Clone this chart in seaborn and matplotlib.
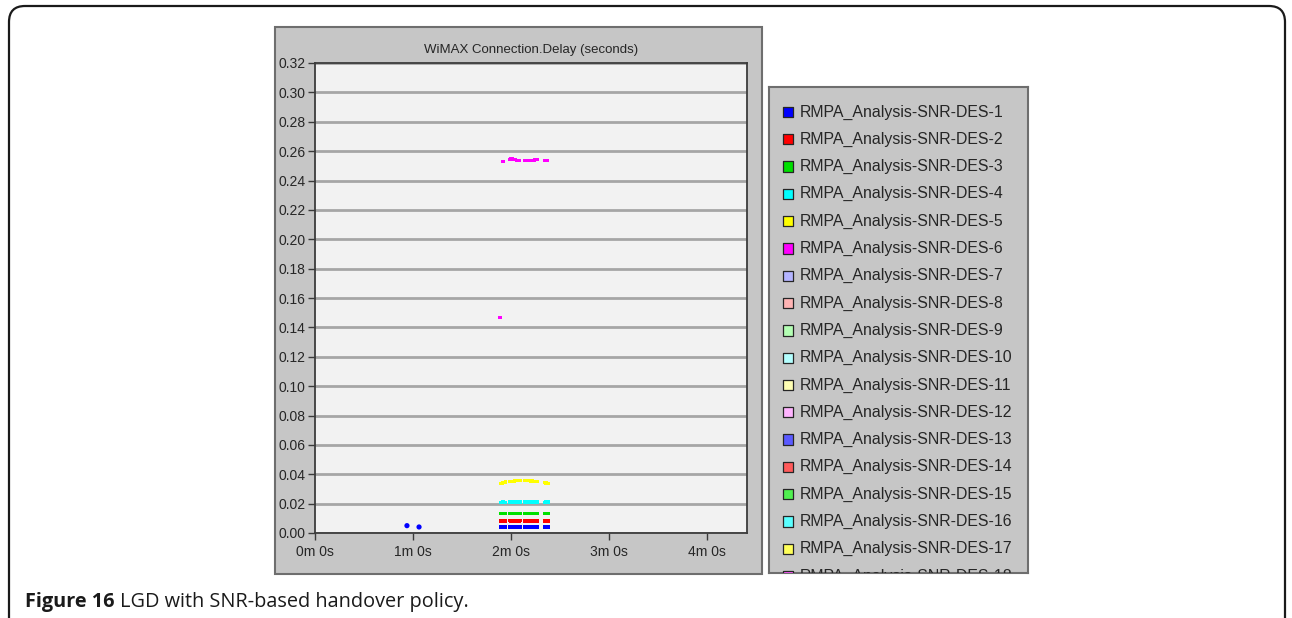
import numpy as np
import pandas as pd
import seaborn as sns
import matplotlib.pyplot as plt
from matplotlib import font_manager
from matplotlib.patches import Rectangle, FancyBboxPatch
from matplotlib.transforms import IdentityTransform

# ---- data (time in seconds, delay in seconds) ----
series_names = [f"RMPA_Analysis-SNR-DES-{i}" for i in range(1, 19)]
series_colors = [
    "#0000ff", "#ff0000", "#00e000", "#00ffff", "#ffff00", "#ff00ff",
    "#b4b4ff", "#ffb4b4", "#b4ffb4", "#b4ffff", "#ffffb4", "#ffb4ff",
    "#5a5aff", "#ff5a5a", "#50f050", "#5affff", "#ffff5a", "#ff5aff",
]

t_des1_early = [56.3, 63.7]
delay_des1_early = [0.0050, 0.0041]

t_burst = [113.6, 114.6, 115.6, 116.5,
           119.1, 120.0, 121.0, 122.0, 123.0, 124.0, 124.9, 125.7,
           128.3, 129.2, 130.1, 131.0, 132.0, 133.0, 134.0, 135.0, 135.7, 136.3,
           140.5, 141.5, 142.6]
delay_des1 = [0.0041, 0.0040, 0.0040, 0.0041, 0.0040, 0.0040, 0.0041, 0.0040,
              0.0040, 0.0041, 0.0040, 0.0040, 0.0040, 0.0040, 0.0041, 0.0040,
              0.0040, 0.0040, 0.0041, 0.0040, 0.0040, 0.0040, 0.0040, 0.0041, 0.0040]
delay_des2 = [0.0082, 0.0083, 0.0082, 0.0082, 0.0083, 0.0082, 0.0082, 0.0083,
              0.0082, 0.0082, 0.0082, 0.0083, 0.0082, 0.0082, 0.0083, 0.0082,
              0.0082, 0.0082, 0.0083, 0.0082, 0.0082, 0.0082, 0.0082, 0.0083, 0.0082]
delay_des3 = [0.0134, 0.0135, 0.0134, 0.0134, 0.0135, 0.0134, 0.0134, 0.0135,
              0.0134, 0.0134, 0.0134, 0.0135, 0.0134, 0.0134, 0.0135, 0.0134,
              0.0134, 0.0134, 0.0135, 0.0134, 0.0134, 0.0134, 0.0134, 0.0135, 0.0134]
delay_des4 = [0.0210, 0.0211, 0.0211, 0.0210, 0.0211, 0.0211, 0.0210, 0.0211,
              0.0211, 0.0211, 0.0210, 0.0211, 0.0211, 0.0210, 0.0211, 0.0211,
              0.0210, 0.0211, 0.0211, 0.0210, 0.0211, 0.0211, 0.0210, 0.0211, 0.0211]
delay_des5 = [0.0336, 0.0341, 0.0345, 0.0348, 0.0351, 0.0352, 0.0353, 0.0354,
              0.0355, 0.0355, 0.0356, 0.0356, 0.0356, 0.0356, 0.0355, 0.0355,
              0.0354, 0.0354, 0.0353, 0.0352, 0.0351, 0.0350, 0.0345, 0.0341, 0.0335]

t_des6 = [113.3, 115.1,
          119.0, 119.9, 120.8, 121.7, 122.6, 123.5, 124.4, 125.3,
          128.3, 129.2, 130.1, 131.0, 131.9, 132.8, 133.7, 134.6, 135.5, 136.3,
          140.3, 141.2, 142.1]
delay_des6 = [0.1465, 0.2528,
              0.2543, 0.2546, 0.2547, 0.2545, 0.2541, 0.2538, 0.2537, 0.2536,
              0.2535, 0.2535, 0.2535, 0.2536, 0.2537, 0.2537, 0.2538, 0.2540, 0.2543, 0.2545,
              0.2537, 0.2536, 0.2536]

y_ticks = [0.00, 0.02, 0.04, 0.06, 0.08, 0.10, 0.12, 0.14, 0.16,
           0.18, 0.20, 0.22, 0.24, 0.26, 0.28, 0.30, 0.32]
x_ticks = [0, 60, 120, 180, 240]
x_tick_labels = ["0m 0s", "1m 0s", "2m 0s", "3m 0s", "4m 0s"]
x_max = 264.5

# ---- long-form table ----
frames = []
for name, vals in zip(series_names[:5], [delay_des1, delay_des2, delay_des3, delay_des4, delay_des5]):
    frames.append(pd.DataFrame({"time": t_burst, "delay": vals, "series": name}))
frames.append(pd.DataFrame({"time": t_des6, "delay": delay_des6, "series": series_names[5]}))
df = pd.concat(frames, ignore_index=True)
df_early = pd.DataFrame({"time": t_des1_early, "delay": delay_des1_early, "series": series_names[0]})
palette = dict(zip(series_names, series_colors))

# ---- style / fonts ----
sns.set_style("white")
available = {f.name for f in font_manager.fontManager.ttflist}
narrow = "Liberation Sans Narrow" if "Liberation Sans Narrow" in available else "Liberation Sans"
plt.rcParams["font.family"] = [narrow, "DejaVu Sans"]
text_color = "#262626"

W, H = 1292, 618
fig = plt.figure(figsize=(W / 100, H / 100), dpi=100)
fig.patch.set_facecolor("white")


def fig_rect(x0, y0, x1, y1):
    # pixel box (top-left origin) -> figure fraction [left, bottom, width, height]
    return [x0 / W, (H - y1) / H, (x1 - x0) / W, (y1 - y0) / H]


# outer rounded frame of the figure
frame = FancyBboxPatch((9, -40), 1276, 612 + 40, boxstyle="round,pad=0,rounding_size=16",
                       transform=IdentityTransform(), facecolor="none",
                       edgecolor="#1a1a1a", linewidth=1.6, zorder=-2)
fig.patches.append(frame)

# grey chart panel (behind the axes)
panel = Rectangle((275 / W, (H - 574) / H), (762 - 275) / W, (574 - 27) / H,
                  transform=fig.transFigure, facecolor="#c6c6c6",
                  edgecolor="#6e6e6e", linewidth=1.5, zorder=-1)
fig.patches.append(panel)

# ---- main plot ----
ax = fig.add_axes(fig_rect(315, 63, 747, 533))
ax.set_facecolor("#f2f2f2")
sns.scatterplot(data=df, x="time", y="delay", hue="series", palette=palette,
                marker="s", s=5.5, linewidth=0, legend=False, ax=ax, zorder=3)
sns.scatterplot(data=df_early, x="time", y="delay", hue="series", palette=palette,
                marker="o", s=14, linewidth=0, legend=False, ax=ax, zorder=3)

ax.set_xlim(0, x_max)
ax.set_ylim(0, 0.32)
ax.set_yticks(y_ticks)
ax.set_yticklabels([f"{v:.2f}" for v in y_ticks])
ax.set_xticks(x_ticks)
ax.set_xticklabels(x_tick_labels)
ax.set_xlabel("")
ax.set_ylabel("")
ax.yaxis.grid(True, color="#a6a6a6", linewidth=2)
ax.xaxis.grid(False)
ax.set_axisbelow(True)
ax.tick_params(axis="both", direction="out", length=5, width=1, color="#3a3a3a",
               labelsize=10, labelcolor=text_color, pad=2, left=True, bottom=True)
ax.tick_params(axis="x", pad=4)
for side in ["top", "right", "bottom", "left"]:
    ax.spines[side].set_visible(True)
    ax.spines[side].set_color("#3c3c3c")
    ax.spines[side].set_linewidth(1.3)

fig.text(531 / W, 1 - 50 / H, "WiMAX Connection.Delay (seconds)", ha="center", va="center",
         fontsize=9.5, color=text_color)

# ---- legend panel ----
lax = fig.add_axes(fig_rect(769, 87, 1028, 573))
lax.set_facecolor("#c6c6c6")
lax.set_xlim(0, 259)
lax.set_ylim(573 - 87, 0)
lax.set_xticks([])
lax.set_yticks([])
for side in lax.spines.values():
    side.set_color("#6e6e6e")
    side.set_linewidth(1.5)
entry_y = [25 + 27.3 * i for i in range(len(series_names))]
lax.scatter([19] * len(series_names), entry_y, marker="s", s=55, c=series_colors,
            edgecolors="#262626", linewidths=0.9, clip_on=True, zorder=3)
for yy, name in zip(entry_y, series_names):
    lax.text(31, yy, name, va="center", ha="left", fontsize=11.4, color=text_color,
             clip_on=True)

# ---- caption ----
cap_font = "Open Sans" if "Open Sans" in available else "DejaVu Sans"
t1 = fig.text(25 / W, 1 - 602 / H, "Figure 16", fontsize=14.3, fontweight="bold",
              family=[cap_font, "DejaVu Sans"], color="#1a1a1a", va="center", ha="left")
fig.canvas.draw()
bb = t1.get_window_extent()
fig.text((bb.x1 + 5) / W, 1 - 602 / H, "LGD with SNR-based handover policy.", fontsize=14.3,
         family=[cap_font, "DejaVu Sans"], color="#1a1a1a", va="center", ha="left")

fig.savefig("out.png", dpi=100)
